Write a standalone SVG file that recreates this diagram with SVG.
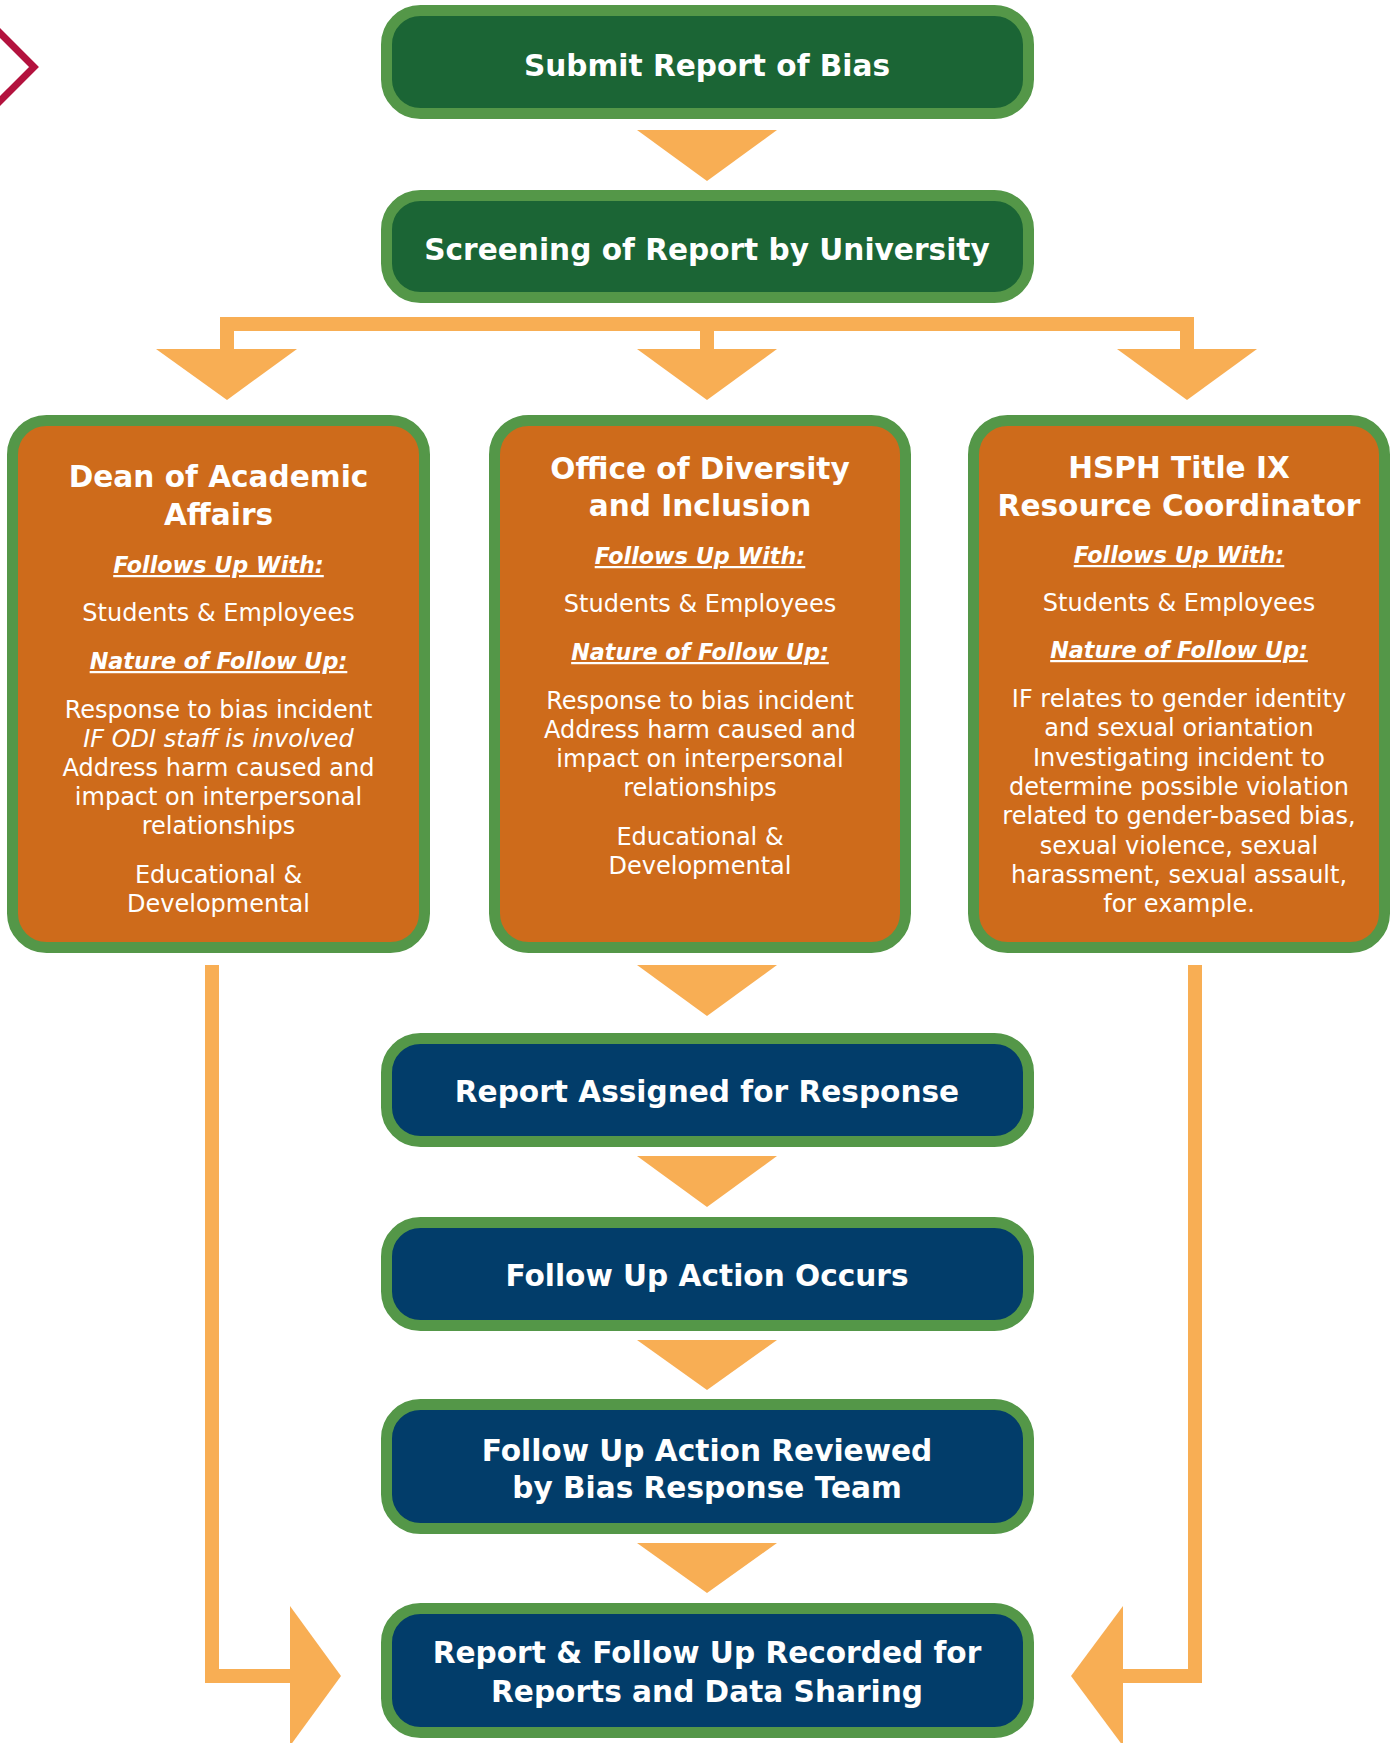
<svg xmlns="http://www.w3.org/2000/svg" width="1397" height="1743" viewBox="0 0 1397 1743">
<style>
.bx{stroke:#549748;stroke-width:11}
.g{fill:#1b6535}
.o{fill:#ce6b1b}
.n{fill:#023d6a}
.arr{fill:#f8ae54}
.h{font-family:"DejaVu Sans",sans-serif;font-weight:bold;font-size:29.6px;fill:#fff;text-anchor:middle}
.b{font-family:"DejaVu Sans",sans-serif;font-size:24px;fill:#fff;text-anchor:middle}
.u{font-family:"DejaVu Sans",sans-serif;font-weight:bold;font-style:italic;font-size:22.3px;fill:#fff;text-anchor:middle;text-decoration:underline}
.i{font-style:italic}
</style>
<rect width="1397" height="1743" fill="#fff"/>
<polyline points="-5,28 34,67 -5,106" fill="none" stroke="#b3123e" stroke-width="7"/>

<g id="connectors" class="arr">
<polygon points="637,130 777,130 707,181"/>
<path d="M220,317 H1194 V349 H1180 V331 H714 V349 H700 V331 H234 V349 H220 Z"/>
<polygon points="156,349 297,349 227,400"/>
<polygon points="637,349 777,349 707,400"/>
<polygon points="1117,349 1257,349 1187,400"/>
<polygon points="637,965 777,965 707,1016"/>
<polygon points="637,1156 777,1156 707,1207"/>
<polygon points="637,1340 777,1340 707,1390"/>
<polygon points="637,1543 777,1543 707,1593"/>
<path d="M205,965 H219 V1669 H290 V1683 H205 Z"/>
<polygon points="290,1606 341,1676 290,1746"/>
<path d="M1188,965 H1202 V1683 H1123 V1669 H1188 Z"/>
<polygon points="1123,1606 1071,1676 1123,1746"/>
</g>

<g id="submit">
<rect class="bx g" x="386.5" y="10.5" width="642" height="103" rx="34"/>
<text class="h" x="707" y="76">Submit Report of Bias</text>
</g>
<g id="screening">
<rect class="bx g" x="386.5" y="195.5" width="642" height="102" rx="34"/>
<text class="h" x="707" y="260">Screening of Report by University</text>
</g>

<g id="dean">
<rect class="bx o" x="12.5" y="420.5" width="412" height="527" rx="34"/>
<text class="h" x="218.5" y="487">Dean of Academic</text>
<text class="h" x="218.5" y="525">Affairs</text>
<text class="u" x="218.5" y="573">Follows Up With:</text>
<text class="b" x="218.5" y="621">Students &amp; Employees</text>
<text class="u" x="218.5" y="669">Nature of Follow Up:</text>
<text class="b" x="218.5" y="718">Response to bias incident</text>
<text class="b i" x="218.5" y="747">IF ODI staff is involved</text>
<text class="b" x="218.5" y="776">Address harm caused and</text>
<text class="b" x="218.5" y="805">impact on interpersonal</text>
<text class="b" x="218.5" y="834">relationships</text>
<text class="b" x="218.5" y="883">Educational &amp;</text>
<text class="b" x="218.5" y="912">Developmental</text>
</g>

<g id="odi">
<rect class="bx o" x="494.5" y="420.5" width="411" height="527" rx="34"/>
<text class="h" x="700" y="479">Office of Diversity</text>
<text class="h" x="700" y="516">and Inclusion</text>
<text class="u" x="700" y="564">Follows Up With:</text>
<text class="b" x="700" y="612">Students &amp; Employees</text>
<text class="u" x="700" y="660">Nature of Follow Up:</text>
<text class="b" x="700" y="709">Response to bias incident</text>
<text class="b" x="700" y="738">Address harm caused and</text>
<text class="b" x="700" y="767">impact on interpersonal</text>
<text class="b" x="700" y="796">relationships</text>
<text class="b" x="700" y="845">Educational &amp;</text>
<text class="b" x="700" y="874">Developmental</text>
</g>

<g id="titleix">
<rect class="bx o" x="973.5" y="420.5" width="411" height="527" rx="34"/>
<text class="h" x="1179" y="478">HSPH Title IX</text>
<text class="h" x="1179" y="516">Resource Coordinator</text>
<text class="u" x="1179" y="563">Follows Up With:</text>
<text class="b" x="1179" y="611">Students &amp; Employees</text>
<text class="u" x="1179" y="658">Nature of Follow Up:</text>
<text class="b" x="1179" y="707">IF relates to gender identity</text>
<text class="b" x="1179" y="736.3">and sexual oriantation</text>
<text class="b" x="1179" y="765.6">Investigating incident to</text>
<text class="b" x="1179" y="794.9">determine possible violation</text>
<text class="b" x="1179" y="824.2">related to gender-based bias,</text>
<text class="b" x="1179" y="853.5">sexual violence, sexual</text>
<text class="b" x="1179" y="882.8">harassment, sexual assault,</text>
<text class="b" x="1179" y="912.1">for example.</text>
</g>

<g id="assigned">
<rect class="bx n" x="386.5" y="1038.5" width="642" height="103" rx="34"/>
<text class="h" x="707" y="1102">Report Assigned for Response</text>
</g>
<g id="action">
<rect class="bx n" x="386.5" y="1222.5" width="642" height="103" rx="34"/>
<text class="h" x="707" y="1286">Follow Up Action Occurs</text>
</g>
<g id="reviewed">
<rect class="bx n" x="386.5" y="1404.5" width="642" height="124" rx="34"/>
<text class="h" x="707" y="1461">Follow Up Action Reviewed</text>
<text class="h" x="707" y="1498">by Bias Response Team</text>
</g>
<g id="recorded">
<rect class="bx n" x="386.5" y="1608.5" width="642" height="124" rx="34"/>
<text class="h" x="707" y="1663">Report &amp; Follow Up Recorded for</text>
<text class="h" x="707" y="1702">Reports and Data Sharing</text>
</g>
</svg>
